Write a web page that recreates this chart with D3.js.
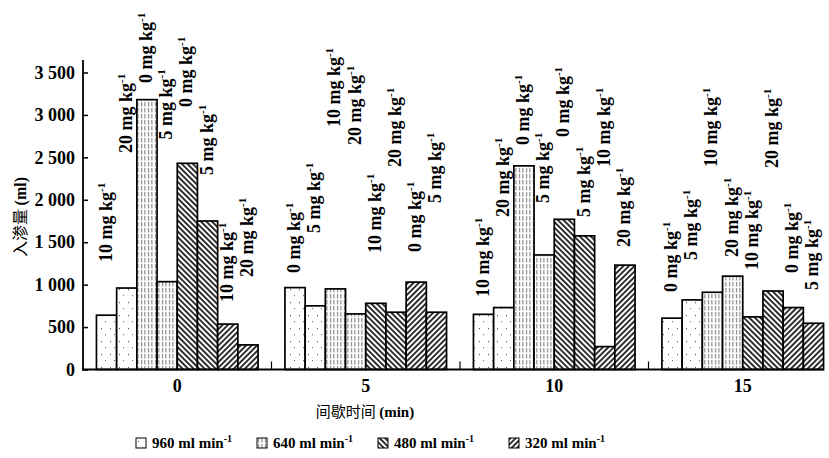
<!DOCTYPE html>
<html><head><meta charset="utf-8">
<script src="https://cdn.jsdelivr.net/npm/d3@7"></script>
<style>
html,body{margin:0;padding:0;background:#fff;}
svg{display:block;}
text{font-family:"Liberation Serif","Times New Roman",serif;font-weight:bold;fill:#000;}
.cjk{font-family:"Noto Sans CJK SC","Noto Sans CJK JP",sans-serif;font-weight:normal;}
</style></head>
<body>
<svg id="chart" width="829" height="458"></svg>
<script>
// ---------- data ----------
const intervals = ["0", "5", "10", "15"];
const flowRates = ["960", "640", "480", "320"];
const barFlow = [0, 0, 1, 1, 2, 2, 3, 3];          // flow-rate series of each bar in a group
const dose0  = [10, 20, 0, 5, 0, 5, 10, 20];
const dose5  = [0, 5, 10, 20, 10, 20, 0, 5];
const dose10 = [10, 20, 0, 5, 0, 5, 10, 20];
const dose15 = [0, 5, 10, 20, 10, 20, 0, 5];
const val0  = [640, 960, 3180, 1035, 2430, 1750, 535, 290];
const val5  = [965, 750, 950, 655, 780, 675, 1030, 675];
const val10 = [650, 730, 2400, 1350, 1770, 1575, 270, 1230];
const val15 = [605, 820, 910, 1100, 620, 925, 730, 545];
// height (ml) where each dose label starts
const labelAt0  = [1267, 2551, 3376, 2710, 3093, 2292, 795, 1090];
const labelAt5  = [1137, 1609, 2857, 2645, 1373, 2386, 1385, 1962];
const labelAt10 = [854, 1797, 2645, 1962, 2739, 1797, 2386, 1444];
const labelAt15 = [913, 1290, 2386, 1326, 1173, 2375, 1137, 937];
const yTicks = [0, 500, 1000, 1500, 2000, 2500, 3000, 3500];

const doses = [dose0, dose5, dose10, dose15];
const vals = [val0, val5, val10, val15];
const labelAts = [labelAt0, labelAt5, labelAt10, labelAt15];
const rows = [];
intervals.forEach((g, gi) => {
  vals[gi].forEach((v, i) => rows.push({group: g, idx: i, flow: barFlow[i], dose: doses[gi][i], value: v, labelAt: labelAts[gi][i]}));
});

// ---------- chart ----------
const svg = d3.select("#chart");
const defs = svg.append("defs");

// patterns
const p960 = defs.append("pattern").attr("id", "p0").attr("patternUnits", "userSpaceOnUse").attr("width", 9).attr("height", 13);
p960.append("rect").attr("width", 9).attr("height", 13).attr("fill", "#fff");
p960.append("rect").attr("x", 2).attr("y", 3).attr("width", 1).attr("height", 1.2).attr("fill", "#555");
p960.append("rect").attr("x", 6).attr("y", 9).attr("width", 1).attr("height", 1.2).attr("fill", "#777");

const p640 = defs.append("pattern").attr("id", "p1").attr("patternUnits", "userSpaceOnUse").attr("width", 3.5).attr("height", 6);
p640.append("rect").attr("width", 3.5).attr("height", 6).attr("fill", "#fff");
p640.append("line").attr("x1", 1.5).attr("x2", 1.5).attr("y1", 0).attr("y2", 4.5).attr("stroke", "#444").attr("stroke-width", 0.8);

const p480 = defs.append("pattern").attr("id", "p2").attr("patternUnits", "userSpaceOnUse").attr("width", 3.9).attr("height", 10).attr("patternTransform", "rotate(-45)");
p480.append("rect").attr("width", 3.9).attr("height", 10).attr("fill", "#fff");
p480.append("line").attr("x1", 1).attr("x2", 1).attr("y1", 0).attr("y2", 10).attr("stroke", "#000").attr("stroke-width", 1.6);

const p320 = defs.append("pattern").attr("id", "p3").attr("patternUnits", "userSpaceOnUse").attr("width", 3.9).attr("height", 10).attr("patternTransform", "rotate(45)");
p320.append("rect").attr("width", 3.9).attr("height", 10).attr("fill", "#fff");
p320.append("line").attr("x1", 1).attr("x2", 1).attr("y1", 0).attr("y2", 10).attr("stroke", "#000").attr("stroke-width", 1.6);

const x0 = d3.scaleBand().domain(intervals).range([83, 837]).paddingInner(0).paddingOuter(0);
const x1 = d3.scaleBand().domain(d3.range(8)).range([-80.8, 80.8]);
const y = d3.scaleLinear().domain([0, 3500]).range([369.5, 72.5]);

// bars
svg.append("g").selectAll("rect").data(rows).join("rect")
  .attr("x", d => x0(d.group) + x0.bandwidth() / 2 + x1(d.idx))
  .attr("y", d => y(d.value))
  .attr("width", x1.bandwidth())
  .attr("height", d => y(0) - y(d.value))
  .attr("fill", d => `url(#p${d.flow})`)
  .attr("stroke", "#000").attr("stroke-width", 1.7);

// dose labels
const lab = svg.append("g").selectAll("text").data(rows).join("text")
  .attr("transform", d => `translate(${x0(d.group) + x0.bandwidth() / 2 + x1(d.idx) + x1.bandwidth() / 2 + 5},${y(d.labelAt)}) rotate(-90)`)
  .style("font-size", "18px");
lab.append("tspan").text(d => `${d.dose} mg kg`);
lab.append("tspan").attr("dy", -7).style("font-size", "11px").text("-1");

// y axis
const fmt = d3.formatLocale({decimal: ".", thousands: " ", grouping: [3], currency: ["", ""]}).format(",");
const yAxis = svg.append("g").attr("transform", "translate(83,0)")
  .call(d3.axisLeft(y).tickValues(yTicks).tickFormat(fmt).tickSizeInner(-5).tickSizeOuter(0).tickPadding(8));
yAxis.select(".domain").remove();
yAxis.selectAll(".tick line").attr("stroke", "#000").attr("stroke-width", 1.5);
yAxis.selectAll(".tick text").style("font-size", "18px").style("font-family", "'Liberation Serif',serif").style("font-weight", "bold");
svg.append("line").attr("x1", 83).attr("x2", 83).attr("y1", 60).attr("y2", y(0) + 1).attr("stroke", "#000").attr("stroke-width", 1.8);

// x axis
const xAxis = svg.append("g").attr("transform", `translate(0,${y(0)})`)
  .call(d3.axisBottom(x0).tickSize(0).tickPadding(10));
xAxis.select(".domain").remove();
xAxis.selectAll(".tick text").style("font-size", "18px").style("font-family", "'Liberation Serif',serif").style("font-weight", "bold");
svg.append("line").attr("x1", 82).attr("x2", 824).attr("y1", y(0)).attr("y2", y(0)).attr("stroke", "#000").attr("stroke-width", 2.2);
svg.append("g").selectAll("line").data(intervals.slice(1)).join("line")
  .attr("x1", d => x0(d)).attr("x2", d => x0(d))
  .attr("y1", y(0)).attr("y2", y(0) - 8)
  .attr("stroke", "#000").attr("stroke-width", 1.2);

// axis titles
const xt = svg.append("text").attr("x", 365).attr("y", 417).attr("text-anchor", "middle").style("font-size", "15px");
xt.append("tspan").attr("class", "cjk").text("间歇时间 ");
xt.append("tspan").text("(min)");

const yt = svg.append("text").attr("transform", "translate(26,217) rotate(-90)").attr("text-anchor", "middle").style("font-size", "16px");
yt.append("tspan").attr("class", "cjk").text("入渗量 ");
yt.append("tspan").text("(ml)");

// legend
const legX = [136, 257, 378, 509];
const leg = svg.append("g").selectAll("g").data(flowRates).join("g")
  .attr("transform", (d, i) => `translate(${legX[i]},438)`);
leg.append("rect").attr("width", 10).attr("height", 10)
  .attr("fill", (d, i) => `url(#p${i})`).attr("stroke", "#000").attr("stroke-width", 1);
const lt = leg.append("text").attr("x", 16).attr("y", 10).style("font-size", "15px");
lt.append("tspan").text(d => `${d} ml min`);
lt.append("tspan").attr("dy", -6).style("font-size", "10px").text("-1");
</script>
</body></html>
